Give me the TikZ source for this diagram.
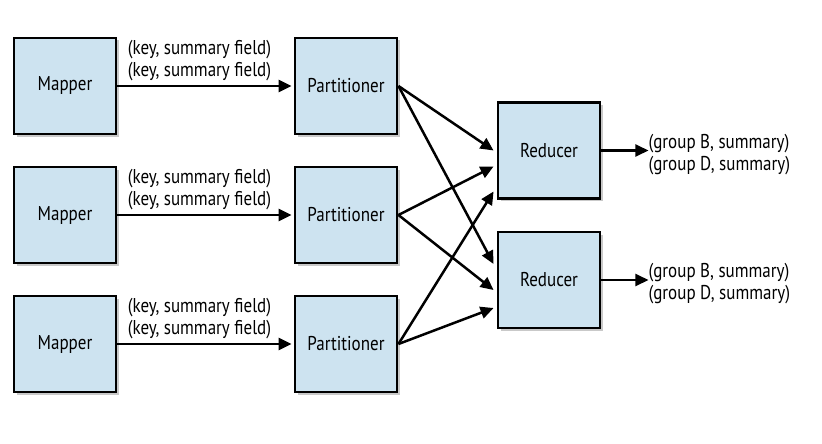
\documentclass[tikz,border=0pt]{standalone}
\usepackage{fontspec}
\setmainfont[FakeStretch=0.85]{PT Sans}
\usetikzlibrary{arrows.meta,shadows,calc}
\definecolor{boxfill}{HTML}{CDE3F0}
\begin{document}
\begin{tikzpicture}[x=1pt,y=-1pt,
  box/.style={draw=black, line width=2.9pt, fill=boxfill, minimum width=102pt, minimum height=96pt,
    inner sep=0pt, font=\fontsize{20}{22}\selectfont,
    drop shadow={shadow xshift=2.5pt, shadow yshift=-2.5pt, opacity=0.35, fill=black!60}},
  conn/.style={line width=2.5pt, -{Triangle[length=13pt,width=12pt]}},
  lbl/.style={font=\fontsize{20}{22}\selectfont, inner sep=0pt}]
\useasboundingbox (0,0) rectangle (822,444);
\fill[white] (0,0) rectangle (822,444);
\node[box] (M1) at (65,86) {Mapper};
\node[box] (M2) at (65,215) {Mapper};
\node[box] (M3) at (65,344) {Mapper};
\node[box] (P1) at (346,86) {Partitioner};
\node[box] (P2) at (346,215) {Partitioner};
\node[box] (P3) at (346,344) {Partitioner};
\node[box] (R1) at (549,150.5) {Reducer};
\node[box] (R2) at (549,280) {Reducer};
\foreach \i in {1,2,3}{
  \draw[conn, shorten >=2pt] (M\i) -- (P\i)
    node[lbl, midway, above=4pt, xshift=-6pt, align=center] {(key, summary field)\\(key, summary field)};
}
\coordinate (r1a) at ($(R1.west)+(-3,0)$);
\coordinate (r1b) at ($(R1.west)+(-3,16)$);
\coordinate (r1c) at ($(R1.west)+(-3,41)$);
\coordinate (r2a) at ($(R2.west)+(-3,-16)$);
\coordinate (r2b) at ($(R2.west)+(-3,10)$);
\coordinate (r2c) at ($(R2.west)+(-3,28)$);
\draw[conn] (P1.east) -- (r1a);
\draw[conn] (P2.east) -- (r1b);
\draw[conn] (P3.east) -- (r1c);
\draw[conn] (P1.east) -- (r2a);
\draw[conn] (P2.east) -- (r2b);
\draw[conn] (P3.east) -- (r2c);
\coordinate (o1) at ($(R1.east)+(47,0)$);
\coordinate (o2) at ($(R2.east)+(47,0)$);
\draw[conn] (R1.east) -- (o1);
\draw[conn] (R2.east) -- (o2);
\node[lbl, anchor=west, align=left] (L1) at ($(o1)+(0,4)$) {(group B, summary)\\(group D, summary)};
\node[lbl, anchor=west, align=left] (L2) at ($(o2)+(0,4)$) {(group B, summary)\\(group D, summary)};
\end{tikzpicture}
\end{document}
